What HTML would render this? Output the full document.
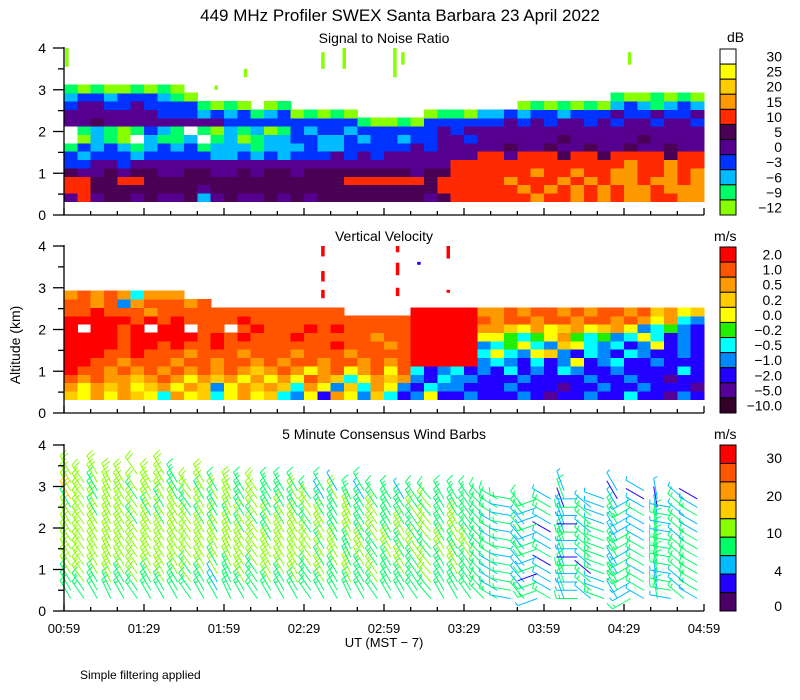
<!DOCTYPE html>
<html><head><meta charset="utf-8"><title>449 MHz Profiler</title>
<style>
html,body{margin:0;padding:0;background:#fff;}
svg{display:block;font-family:"Liberation Sans",sans-serif;}
</style></head>
<body>
<svg id="chart" width="800" height="700" viewBox="0 0 800 700">
<text x="400" y="21" font-size="17" text-anchor="middle">449 MHz Profiler SWEX Santa Barbara 23 April 2022</text>
<text x="384" y="43" font-size="14" text-anchor="middle">Signal to Noise Ratio</text>
<text x="384" y="241" font-size="14" text-anchor="middle">Vertical Velocity</text>
<text x="384" y="439" font-size="14" text-anchor="middle">5 Minute Consensus Wind Barbs</text>
<text x="20" y="345" font-size="14" text-anchor="middle" transform="rotate(-90 20 345)">Altitude (km)</text>
<text x="384" y="647" font-size="13" text-anchor="middle">UT  (MST − 7)</text>
<text x="80" y="679" font-size="12">Simple filtering applied</text>
<text x="727" y="42" font-size="14">dB</text>
<text x="714" y="241" font-size="14">m/s</text>
<text x="714" y="439" font-size="14">m/s</text>
<g id="layer"></g>
</svg>
<script>
// ---------- data ----------
const timeLabels = ["00:59","01:29","01:59","02:29","02:59","03:29","03:59","04:29","04:59"];
const altTicks = [0,1,2,3,4];
const snrLabels = ["30","25","20","15","10","5","0","−3","−6","−9","−12"];
const velLabels = ["2.0","1.0","0.5","0.2","0.0","−0.2","−0.5","−1.0","−2.0","−5.0","−10.0"];
const windLabels = ["30","20","10","4","0"];
const windLabelAlt = [30,20,10,4,0];
const windBins = [30,25,20,15,10,7,4,2,0];

// SNR grid: bottom row first, rows of 0.2 km starting 0.33 km, 48 columns of 5 min
const snrRows = [
 ["PRPDDPDP","PDSPDPPD","PDPDDDDD","DDDPDRRR","RRRORROR","OROORROO"],
 ["RRDDDDDD","DDPDDDDD","DDDDDDDD","DDDDRRRR","RROROROR","OROOROOO"],
 ["RRDDRRDD","DDDDDDDD","DDDDDRRR","RRRDRRRR","RORRRORO","ROOROORO"],
 ["DPPDPDDP","PDDPPDPD","DPDDDDDD","DDPDDRRR","RRRORROR","ROORRORO"],
 ["BBPPBPPP","PPPPPPPP","PPPPPPPP","PPPPPRRR","RRRRRRRR","RRORRORR"],
 ["BSBBBSBB","BBBSSBSB","SBBBPBPB","PPPPPPPR","RPRRRDRR","DRRRRDRR"],
 ["NBSBSNSB","SBNSSSNS","SSBSSBBB","BBPBPPPP","PDPPDPPD","PPDPPDPP"],
 ["WLSNLWSN","NSWNSLNS","SBBSSBSB","BSBBPPBP","PPPPPDPP","PPPDPPPP"],
 ["WNSNLNBS","NWNLSNSL","NBSBBSBB","BBBBPBPP","PPPPPPPP","PPPPPPPP"],
 ["PPDPPPPP","PPPPBBBB","BBBBBBNL","LNLBBBBB","BPBPBPPB","PBPPBPPB"],
 ["PPPPPPPB","BBSBSBNS","BLNLNL..","...LNNLS","SBSBBSBB","BPBBPBBP"],
 ["BPPBBPBB","BBNLNL.L","N.......","........","..LNLNLN","LSBSNSBS"],
 ["SBBSBBBS","NL......","........","........","........",".NLLNLNL"],
 ["NLNLLNLN","L.......","........","........","........","........"]
];
// isolated echoes [minutes after 00:59, bottom km, top km, colour code]
const snrSpikeT = [1,57,68,97,105,124,127,212];
const snrSpikeLo = [3.55,3.0,3.3,3.5,3.5,3.3,3.6,3.6];
const snrSpikeHi = [4.0,3.1,3.5,3.9,4.0,4.0,3.9,3.9];
const snrSpikeC = ["L","L","L","L","L","L","L","L"];

// Vertical velocity grid
const velRows = [
 ["GYOYOGYC","OYGCYOYG","CAYBOYAG","CBAYBBAB","BBABPBBA","BBCBBPAB"],
 ["OYOGOYGO","YOGAYOGO","GCOYAGCO","YABCAABB","BABBBPBB","ABBABBBP"],
 ["rOrOOGOr","OYOGOYOY","OYrOGCYO","GOABCAAB","BBABBBBA","BBABBPBB"],
 ["RrrOrOrO","rOrOrOGO","rOYOrYOr","YrCBACBA","BCBABCAB","BABBBBCB"],
 ["RRrrOrrr","OrrOrrOr","OrrOrrOr","OrRRRRRA","CABCBAYB","ACBBABBB"],
 ["RRRrrRrr","rOrrrOrr","rOrrrOrr","rrRRRRRC","YCAYGABC","ABCABBAB"],
 ["RRRRrRRr","RrrRrrrr","rrrrRrrr","OrRRRRRA","CgYCAGYC","ACBAYBAB"],
 ["RRRRrRRR","RRrRrRrr","rRrrrrrO","rrRRRRRY","YgCgYOgC","gACYCBAB"],
 ["R.RRrR.R","R.rr.rRr","rrRrRrrr","rrRRRRRO","OGYOYGOY","GOYACgAB"],
 ["RRRRRrRr","RrrrrRrr","rrrrrrrr","rrRRRRRr","OrrOrrOr","rOrOYOCA"],
 ["rrRrrrOr","rrrrrrrr","rrrrr...","..RRRRRO","OrOrrOrO","rrOrGOYG"],
 ["rrOrAOrr","rOr.....","........","........","........","........"],
 ["OrOrOCOO","O.......","........","........","........","........"]
];
const velSpikeT = [97,97,97,125,125,125,133,144,144];
const velSpikeLo = [3.75,3.15,2.75,3.85,3.3,2.8,3.55,3.7,2.88];
const velSpikeHi = [4.0,3.4,2.95,4.0,3.6,3.0,3.62,4.0,2.95];
const velSpikeC = ["R","R","R","R","R","R","B","R","R"];

// Wind: speed (m/s / 2, one char per column) per level, bottom first, levels at 0.3 + 0.2k km
const windRows = [
 ["44444444","44444444","44444444","44444444","42424242","42424242"],
 ["44444444","44424444","44444444","44444444","24242424","24242424"],
 ["46464646","46424646","46464646","44464444","24242424","24242424"],
 ["66666666","64664646","66464646","46464644","24212421","42424244"],
 ["66666666","66646666","66646464","46464644","24241242","42444444"],
 ["66666666","66666666","66666464","64646464","42424414","44444444"],
 ["66666666","66666666","66646464","64646464","44242424","44244444"],
 ["66666666","66666664","66664646","46464644","24242424","42424424"],
 ["66666666","66646464","66464646","46464644","42421242","42424242"],
 ["66666464","66464646","46464646","44464644","24242214","24224242"],
 ["66466646","64646464","64644646","44644444","42424224","24242424"],
 ["46766664","64646464","44644444","44464444","42424142","22421242"],
 ["86466466","46466464","46426424","42444444","44.4242.","21212.21"],
 ["66466566","46646464","44.42.4.","........",".....2..",".2.2...."],
 ["66566.66","4.6.....","........","........","........","........"],
 ["6.6..6.6","........","........","........","........","........"]
];
// wind direction (deg, from) per 5-minute column
const windDir = [330,325,330,335,330,325,330,330, 330,325,330,330,335,330,325,330,
 330,330,325,330,330,335,330,325, 330,330,325,320,330,330,325,315,
 300,280,320,250,300,340,270,310, 290,330,240,300,350,280,310,300];

// ---------- rendering ----------
const NS = "http://www.w3.org/2000/svg";
const layer = document.getElementById('layer');
const X0 = 64, X1 = 704, SPAN = 240, NCOL = 48;
const panels = [{y0:215,k:41.75},{y0:413,k:41.75},{y0:611,k:41.5}];
const snrCol = {W:"#ffffff",Y:"#ffff00",G:"#ffcc00",O:"#ff9900",R:"#ff2a00",D:"#4a0055",P:"#55008f",B:"#0033ff",S:"#00bbff",N:"#00ff66",L:"#88ff00"};
const snrBar = ["#ffffff","#ffff00","#ffcc00","#ff9900","#ff2a00","#4a0055","#55008f","#0033ff","#00bbff","#00ff66","#88ff00"];
const velCol = {R:"#ff0000",r:"#ff5500",O:"#ff9900",G:"#ffcc00",Y:"#ffff00",g:"#22ee00",C:"#00ffff",A:"#0088ff",B:"#2200ff",P:"#550099",K:"#33002a"};
const velBar = ["#ff0000","#ff5500","#ff9900","#ffcc00","#ffff00","#22ee00","#00ffff","#0088ff","#2200ff","#550099","#33002a"];
const windBar = ["#ff0000","#ff5500","#ff9900","#ffcc00","#88ff00","#00ff66","#00bbff","#2200ff","#4a0066"];

function xs(min){ return X0 + min/SPAN*(X1-X0); }
function ys(p,km){ return panels[p].y0 - km*panels[p].k; }
function mk(tag, attrs){ const e=document.createElementNS(NS,tag); for(const a in attrs) e.setAttribute(a,attrs[a]); return e; }

function drawGrid(p, rows, cmap, nm){
  const g = mk('g',{'shape-rendering':'crispEdges'});
  
  
  const cw = SPAN/NCOL;
  rows.forEach((grp,ri)=>{
    const s = grp.join('');
    const lo = 0.33 + ri*0.2, hi = lo + 0.2;
    for(let c=0;c<s.length;c++){
      const ch=s[c]; if(!cmap[ch]) continue;
      const xa=xs(c*cw), xb=xs((c+1)*cw);
      const r = mk('rect',{x:xa.toFixed(2),y:ys(p,hi).toFixed(2),width:(xb-xa+0.6).toFixed(2),height:(ys(p,lo)-ys(p,hi)+0.6).toFixed(2),fill:cmap[ch]});
      
      
      g.appendChild(r);
    }
  });
  layer.appendChild(g);
}
function drawSpikes(p, T, LO, HI, C, cmap, nm){
  for(let i=0;i<T.length;i++){
    const r = mk('rect',{x:(xs(T[i])-1.5).toFixed(2),y:ys(p,HI[i]).toFixed(2),width:3.5,height:(ys(p,LO[i])-ys(p,HI[i])).toFixed(2),fill:cmap[C[i]]});
    
    
    layer.appendChild(r);
  }
}
drawGrid(0, snrRows, snrCol, 'snr-heatmap');
drawSpikes(0, snrSpikeT, snrSpikeLo, snrSpikeHi, snrSpikeC, snrCol, 'snr-echo');
drawGrid(1, velRows, velCol, 'velocity-heatmap');
drawSpikes(1, velSpikeT, velSpikeLo, velSpikeHi, velSpikeC, velCol, 'velocity-echo');

function windColor(s){
  for(let i=0;i<windBins.length;i++){ if(s>=windBins[i]) return windBar[i]; }
  return windBar[windBar.length-1];
}
// wind barbs
const wg = mk('g',{'stroke-width':'1','fill':'none'});


windRows.forEach((grp,ri)=>{
  const s = grp.join('');
  const alt = 0.3 + ri*0.2;
  for(let c=0;c<s.length;c++){
    if(s[c]==='.') continue;
    const spd = parseInt(s[c],36)*2;
    const d = windDir[c]*Math.PI/180;
    const ux = Math.sin(d), uy = -Math.cos(d);
    const px = xs((c+0.5)*SPAN/NCOL), py = ys(2,alt);
    const L = 21, ex = px+ux*L, ey = py+uy*L;
    const col = windColor(spd);
    let dstr = `M${px.toFixed(1)},${py.toFixed(1)}L${ex.toFixed(1)},${ey.toFixed(1)}`;
    let rem = spd, pos = 0;
    const nx = -uy, ny = ux;
    while(rem >= 5){
      const bx = ex - ux*pos, by = ey - uy*pos;
      dstr += `M${bx.toFixed(1)},${by.toFixed(1)}l${(nx*8+ux*2).toFixed(1)},${(ny*8+uy*2).toFixed(1)}`;
      rem -= 5; pos += 3.5;
    }
    if(rem >= 2.5){
      const bx = ex - ux*pos, by = ey - uy*pos;
      dstr += `M${bx.toFixed(1)},${by.toFixed(1)}l${(nx*4+ux*1).toFixed(1)},${(ny*4+uy*1).toFixed(1)}`;
    }
    const path = mk('path',{d:dstr,stroke:col});
    
    
    wg.appendChild(path);
  }
});
layer.appendChild(wg);

// axes
const names = ['snr','velocity','wind'];
panels.forEach((P,pi)=>{
  const ag = mk('g',{stroke:'#000','stroke-width':'1.3',fill:'none'});
  
  
  ag.appendChild(mk('line',{x1:X0,y1:ys(pi,4)-1,x2:X0,y2:P.y0}));
  ag.appendChild(mk('line',{x1:X0,y1:P.y0,x2:X1,y2:P.y0}));
  for(let h=0;h<=4;h+=0.5){
    const len = (h%1===0)?11:6;
    ag.appendChild(mk('line',{x1:X0-len,y1:ys(pi,h),x2:X0,y2:ys(pi,h)}));
  }
  for(let m=0;m<=SPAN;m+=10){
    const len = (m%30===0)?7:4;
    ag.appendChild(mk('line',{x1:xs(m),y1:P.y0,x2:xs(m),y2:P.y0-len}));
  }
  layer.appendChild(ag);
  altTicks.forEach(h=>{
    const t = mk('text',{x:46,y:(ys(pi,h)+5).toFixed(1),'font-size':14,'text-anchor':'end'});
    t.textContent = h;
    
    
    layer.appendChild(t);
  });
});
timeLabels.forEach((lab,i)=>{
  const t = mk('text',{x:xs(i*30).toFixed(1),y:633,'font-size':13,'text-anchor':'middle'});
  t.textContent = lab;
  
  
  layer.appendChild(t);
});

// colorbars
function colorbar(top,bottom,cols,labels,labelYs,nm){
  const g = mk('g',{});
  
  
  const h = (bottom-top)/cols.length;
  cols.forEach((c,i)=>{
    const r = mk('rect',{x:720,y:(top+i*h).toFixed(2),width:16,height:h.toFixed(2),fill:c,stroke:'#000','stroke-width':1});
    
    
    g.appendChild(r);
  });
  labels.forEach((lab,i)=>{
    const y = labelYs ? labelYs[i] : top+(i+0.5)*h;
    const t = mk('text',{x:782,y:(y+5).toFixed(1),'font-size':14,'text-anchor':'end'});
    t.textContent = lab;
    
    
    g.appendChild(t);
  });
  layer.appendChild(g);
}
colorbar(49,215,snrBar,snrLabels,null,'snr-colorbar');
colorbar(247,413,velBar,velLabels,null,'velocity-colorbar');
colorbar(445,611,windBar,windLabels,windLabelAlt.map(v=>({30:458,20:496,10:533,4:571,0:606})[v]),'wind-colorbar');
</script>
</body></html>
